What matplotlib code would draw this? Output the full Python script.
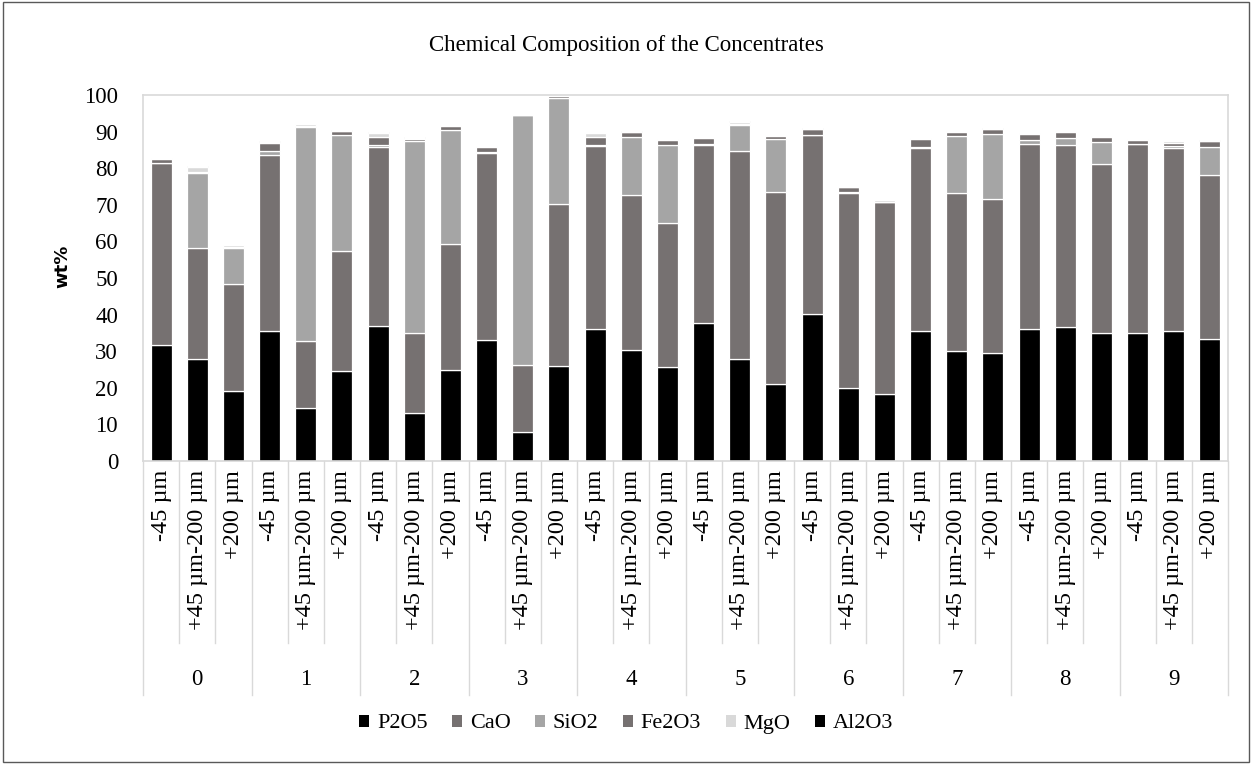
import numpy as np
import matplotlib.pyplot as plt
from matplotlib.patches import Patch, Rectangle
import matplotlib.transforms as mtransforms

# Concentrate groups and size fractions
groups = ['0', '1', '2', '3', '4', '5', '6', '7', '8', '9']
fractions = ['-45 µm', '+45 µm-200 µm', '+200 µm']

# Oxide contents (wt%), one value per bar, groups in order, fractions within group
p2o5 = [31.6, 27.9, 19.1, 35.5, 14.4, 24.6, 37.0, 13.2, 24.9, 33.1,
        8.0, 26.0, 36.1, 30.3, 25.8, 37.6, 27.8, 21.0, 40.3, 19.9,
        18.3, 35.5, 30.1, 29.4, 36.2, 36.7, 34.9, 34.9, 35.5, 33.2]
cao = [49.7, 30.4, 29.2, 48.2, 18.4, 32.8, 48.8, 21.7, 34.3, 51.0,
       18.2, 44.1, 49.9, 42.4, 39.1, 48.7, 57.0, 52.6, 48.7, 53.4,
       52.4, 49.9, 43.2, 42.1, 50.4, 49.6, 46.2, 51.6, 49.9, 44.9]
sio2 = [0.2, 20.5, 10.0, 1.1, 58.5, 31.7, 0.6, 52.6, 31.2, 0.2,
        68.3, 29.0, 0.4, 15.9, 21.4, 0.2, 7.0, 14.4, 0.2, 0.2,
        0.0, 0.4, 15.5, 17.8, 1.0, 2.0, 6.1, 0.2, 0.6, 7.8]
fe2o3 = [1.1, 0.2, 0.2, 2.1, 0.2, 1.0, 2.1, 0.5, 1.1, 1.4,
         0.0, 0.6, 2.1, 1.2, 1.4, 1.8, 0.2, 0.7, 1.5, 1.3,
         0.0, 2.1, 1.1, 1.3, 1.7, 1.5, 1.4, 1.1, 1.0, 1.4]
mgo = [0.2, 1.2, 0.4, 0.3, 0.6, 0.2, 1.0, 0.3, 0.2, 0.3,
       0.0, 0.2, 1.0, 0.2, 0.2, 0.2, 0.7, 0.3, 0.1, 0.1,
       0.5, 0.3, 0.3, 0.2, 0.3, 0.3, 0.2, 0.2, 0.3, 0.2]
al2o3 = [0.1, 0.5, 0.1, 0.1, 0.1, 0.1, 0.3, 0.1, 0.1, 0.1,
         0.0, 0.1, 0.2, 0.1, 0.1, 0.1, 0.1, 0.1, 0.1, 0.1,
         0.0, 0.1, 0.1, 0.1, 0.1, 0.1, 0.1, 0.1, 0.1, 0.1]

series = [('P2O5', p2o5, '#000000'),
          ('CaO', cao, '#767171'),
          ('SiO2', sio2, '#a5a5a5'),
          ('Fe2O3', fe2o3, '#767171'),
          ('MgO', mgo, '#d9d9d9'),
          ('Al2O3', al2o3, '#000000')]

plt.rcParams['font.family'] = ['Liberation Serif', 'DejaVu Serif']

fig = plt.figure(figsize=(12.52, 7.64), dpi=100)
ax = fig.add_axes([143 / 1252, 1 - 461 / 764, 1085 / 1252, 366 / 764])

n = len(groups) * len(fractions)
x = np.arange(n)
bottom = np.zeros(n)
for name, vals, col in series:
    vals = np.array(vals)
    ax.bar(x, vals, bottom=bottom, width=0.58, color=col,
           edgecolor='white', linewidth=0.9, label=name)
    bottom += vals

ax.set_xlim(-0.5, n - 0.5)
ax.set_ylim(0, 100)
ax.set_yticks(np.arange(0, 101, 10))
ax.tick_params(axis='y', length=0, labelsize=16.5, pad=18)
ax.set_xticks([])
for s in ax.spines.values():
    s.set_color('#d9d9d9')
    s.set_linewidth(1.2)

# two-level category axis below the bars
trans = mtransforms.blended_transform_factory(ax.transData, ax.transAxes)
for i in range(n):
    ax.text(i, -0.024, fractions[i % 3], rotation=90, ha='center', va='top',
            fontsize=17.5, transform=trans)
for b in range(n + 1):
    depth = -0.639 if b % 3 == 0 else -0.497
    ax.plot([b - 0.5, b - 0.5], [0, depth], color='#d9d9d9', lw=1.0,
            transform=trans, clip_on=False)
for g, name in enumerate(groups):
    ax.text(3 * g + 1, -0.597, name, ha='center', va='center',
            fontsize=16.5, transform=trans)

fig.text(0.05, 1 - 266 / 764, 'wt%', rotation=90, ha='center', va='center',
         fontsize=13, fontweight='bold', family='DejaVu Sans')
fig.text(0.5, 1 - 45 / 764, 'Chemical Composition of the Concentrates',
         ha='center', va='center', fontsize=16.5)

handles = [Patch(facecolor=c, edgecolor='none', label=nm) for nm, _, c in series]
fig.legend(handles=handles, loc='center', bbox_to_anchor=(0.5, 1 - 724 / 764),
           ncol=6, frameon=False, fontsize=16, handlelength=0.45,
           handleheight=0.45, handletextpad=0.35, columnspacing=1.1)

fig.patches.append(Rectangle((0.002, 0.002), 0.996, 0.996, transform=fig.transFigure,
                             fill=False, edgecolor='#595959', linewidth=1.0))

fig.savefig('out.png', dpi=100)
